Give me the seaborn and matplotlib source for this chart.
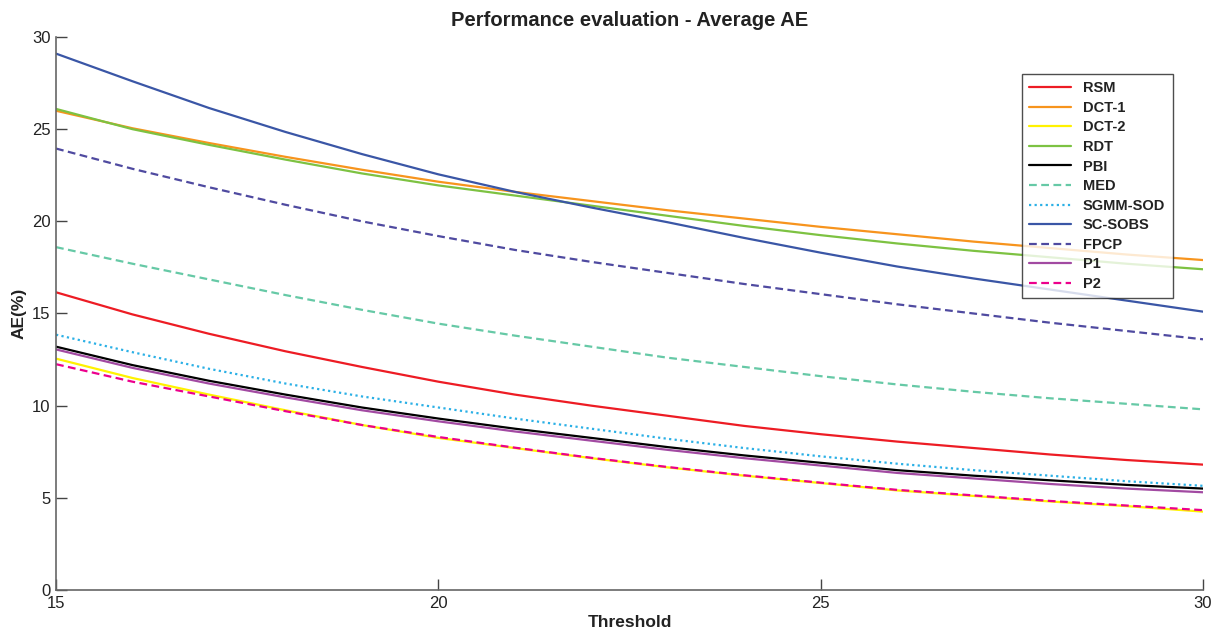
import numpy as np
import pandas as pd
import matplotlib
matplotlib.use("Agg")
import matplotlib.pyplot as plt
import seaborn as sns

thresholds = list(range(15, 31))

RSM      = [16.15, 14.95, 13.9, 12.95, 12.1, 11.3, 10.6, 10.0, 9.45, 8.9, 8.45, 8.05, 7.7, 7.35, 7.05, 6.8]
DCT_1    = [26.0, 25.05, 24.25, 23.5, 22.8, 22.15, 21.6, 21.1, 20.6, 20.15, 19.7, 19.3, 18.9, 18.55, 18.2, 17.9]
DCT_2    = [12.55, 11.5, 10.6, 9.75, 8.95, 8.25, 7.7, 7.15, 6.65, 6.2, 5.8, 5.4, 5.1, 4.8, 4.55, 4.25]
RDT      = [26.1, 25.0, 24.15, 23.35, 22.6, 21.95, 21.4, 20.85, 20.3, 19.75, 19.25, 18.8, 18.4, 18.05, 17.7, 17.4]
PBI      = [13.2, 12.2, 11.35, 10.6, 9.9, 9.3, 8.75, 8.25, 7.75, 7.3, 6.9, 6.5, 6.2, 5.95, 5.7, 5.5]
MED      = [18.6, 17.7, 16.85, 16.0, 15.2, 14.45, 13.8, 13.2, 12.6, 12.1, 11.6, 11.15, 10.75, 10.4, 10.1, 9.8]
SGMM_SOD = [13.85, 12.9, 12.0, 11.2, 10.5, 9.9, 9.3, 8.75, 8.2, 7.7, 7.25, 6.85, 6.5, 6.2, 5.9, 5.65]
SC_SOBS  = [29.1, 27.6, 26.15, 24.85, 23.65, 22.55, 21.6, 20.75, 19.95, 19.1, 18.3, 17.55, 16.9, 16.3, 15.7, 15.1]
FPCP     = [23.95, 22.85, 21.85, 20.9, 20.0, 19.2, 18.45, 17.8, 17.2, 16.6, 16.05, 15.5, 15.0, 14.5, 14.05, 13.6]
P1       = [13.05, 12.05, 11.2, 10.45, 9.75, 9.15, 8.6, 8.1, 7.6, 7.15, 6.75, 6.35, 6.05, 5.75, 5.5, 5.3]
P2       = [12.25, 11.3, 10.5, 9.7, 8.95, 8.3, 7.72, 7.17, 6.67, 6.22, 5.82, 5.43, 5.13, 4.83, 4.58, 4.33]

methods = ["RSM", "DCT-1", "DCT-2", "RDT", "PBI", "MED", "SGMM-SOD", "SC-SOBS", "FPCP", "P1", "P2"]
series = [RSM, DCT_1, DCT_2, RDT, PBI, MED, SGMM_SOD, SC_SOBS, FPCP, P1, P2]

colors = {
    "RSM": "#ed1c24", "DCT-1": "#f7941d", "DCT-2": "#fff200", "RDT": "#7dc242",
    "PBI": "#000000", "MED": "#66c9a6", "SGMM-SOD": "#2bb0e6", "SC-SOBS": "#3a56a6",
    "FPCP": "#4f4aa0", "P1": "#a24aa2", "P2": "#ec008c",
}
styles = {
    "RSM": "-", "DCT-1": "-", "DCT-2": "-", "RDT": "-", "PBI": "-",
    "MED": (0, (3.5, 2.0)), "SGMM-SOD": (0, (1, 1.5)), "SC-SOBS": "-",
    "FPCP": (0, (3.5, 2.0)), "P1": "-", "P2": (0, (3.5, 2.0)),
}

rows = []
for m, vals in zip(methods, series):
    for t, v in zip(thresholds, vals):
        rows.append({"Threshold": t, "AE": v, "Method": m})
df = pd.DataFrame(rows)

sns.set_style("ticks")
plt.rcParams["font.family"] = ["Liberation Sans", "DejaVu Sans"]

fig = plt.figure(figsize=(12.18, 6.33), dpi=100)
ax = fig.add_axes([0.046, 0.068, 0.9417, 0.8735])

for m in methods:
    sub = df[df["Method"] == m]
    sns.lineplot(data=sub, x="Threshold", y="AE", ax=ax, color=colors[m],
                 linestyle=styles[m], linewidth=1.6, label=m)

ax.set_xlim(15, 30)
ax.set_ylim(0, 30)
ax.set_xticks([15, 20, 25, 30])
ax.set_yticks([0, 5, 10, 15, 20, 25, 30])
ax.tick_params(direction="in", length=8, width=1, color="#444444",
               labelsize=12, labelcolor="#222222", pad=4)
for s in ["top", "right"]:
    ax.spines[s].set_visible(False)
for s in ["left", "bottom"]:
    ax.spines[s].set_color("#666666")
    ax.spines[s].set_linewidth(1.2)

ax.set_xlabel("Threshold", fontsize=12.5, fontweight="bold", color="#222222", labelpad=3)
ax.set_ylabel("AE(%)", fontsize=12.5, fontweight="bold", color="#222222", labelpad=4)
ax.set_title("Performance evaluation - Average AE", fontsize=14.5, fontweight="bold",
             color="#222222", pad=8)

leg = ax.legend(loc="upper left", bbox_to_anchor=(0.842, 0.933), borderaxespad=0,
                frameon=True, fancybox=False, edgecolor="#222222", handlelength=2.9,
                labelspacing=0.38, borderpad=0.5, handletextpad=0.8,
                prop={"weight": "bold", "size": 10.5})
leg.get_frame().set_linewidth(1.0)
for txt in leg.get_texts():
    txt.set_color("#222222")

fig.savefig("out.png", dpi=100)
